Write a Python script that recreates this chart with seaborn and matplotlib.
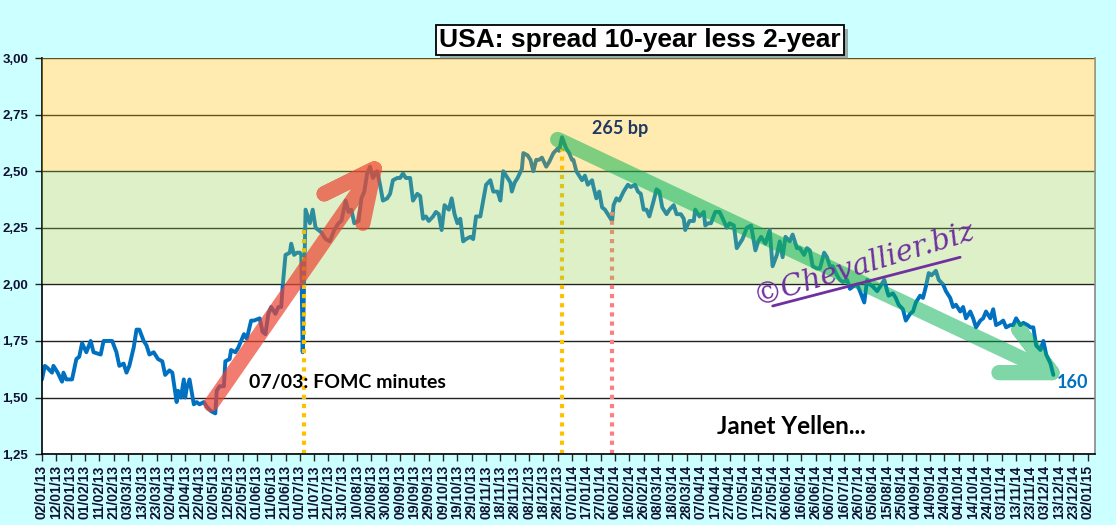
import numpy as np
import pandas as pd
import matplotlib
matplotlib.use('Agg')
import matplotlib.pyplot as plt
import matplotlib.dates as mdates
import matplotlib.ticker as mticker
import matplotlib.patheffects as pe
import seaborn as sns

# ---- data ----
start = pd.Timestamp('2013-01-02')
# days after 02/01/2013
days = [0, 2, 4, 7, 8, 11, 14, 15, 17, 21, 24, 26, 28, 31, 34, 36, 41, 43, 49, 52,
        54, 57, 59, 61, 64, 66, 68, 71, 73, 75, 78, 81, 84, 86, 89, 91, 94, 95, 97, 99,
        100, 101, 103, 106, 108, 110, 113, 115, 118, 121, 122, 124, 127, 128, 131, 132, 135, 137, 139, 141,
        143, 146, 148, 152, 154, 156, 158, 160, 163, 165, 167, 168, 170, 173, 174, 176, 178, 180, 181, 182,
        184, 187, 189, 191, 195, 198, 201, 204, 207, 209, 212, 214, 216, 218, 221, 223, 225, 227, 229, 231,
        234, 236, 238, 241, 243, 245, 248, 250, 252, 254, 257, 259, 262,
        264, 266, 268, 270, 273, 275, 277, 279, 281, 284, 286, 288, 290, 292, 294, 296, 299, 301, 303, 306,
        308, 310, 313, 315, 318, 320, 322, 325, 327, 328, 330, 332, 335, 336, 339, 341, 343, 345, 347, 349,
        352, 354, 357, 360, 361, 363, 366, 368, 370, 371, 373, 375, 377, 379, 381, 384, 385, 387, 389, 391,
        393, 395, 398, 399, 401, 403, 406, 409, 411, 414, 416, 418, 420, 422, 424, 427, 429, 431, 433, 436,
        438, 441, 443, 446, 448, 449, 452, 455, 456, 459, 462, 463, 465, 467, 470, 473, 476, 478, 480, 483,
        485,
        487, 489, 492, 495, 498, 500, 502, 505, 508, 510, 513, 515, 517, 519, 522, 524, 527, 529, 532, 534,
        536, 538, 541, 543, 546, 548, 550, 552, 555, 557, 559, 562, 564, 566, 569, 571, 574, 576, 578, 580,
        583, 585, 588, 590, 591, 594, 596, 598, 601, 603, 606, 608, 610, 613, 615, 617, 619, 621, 624, 626,
        629, 631, 634, 636, 638, 641, 643, 645, 648, 650, 652, 655, 657, 659, 662, 664, 666, 669, 671, 673,
        676, 678, 680, 683, 685, 688, 690, 692, 694, 697, 699, 701, 704, 706]
spread = [1.58, 1.64, 1.63, 1.61, 1.64, 1.61, 1.57, 1.61, 1.58, 1.58, 1.67, 1.68, 1.74, 1.70, 1.75, 1.70, 1.69, 1.75, 1.75, 1.70,
          1.64, 1.65, 1.61, 1.64, 1.72, 1.80, 1.80, 1.75, 1.73, 1.69, 1.70, 1.67, 1.66, 1.60, 1.62, 1.61, 1.48, 1.53, 1.50, 1.58,
          1.50, 1.54, 1.58, 1.47, 1.48, 1.47, 1.48, 1.46, 1.44, 1.43, 1.53, 1.55, 1.55, 1.66, 1.67, 1.71, 1.70, 1.72, 1.75, 1.78,
          1.76, 1.84, 1.84, 1.85, 1.79, 1.78, 1.87, 1.90, 1.87, 1.90, 1.90, 1.99, 2.13, 2.14, 2.18, 2.13, 2.14, 2.14, 2.13, 1.70,
          2.33, 2.27, 2.33, 2.25, 2.23, 2.20, 2.19, 2.24, 2.27, 2.28, 2.37, 2.32, 2.33, 2.27, 2.28, 2.38, 2.41, 2.49, 2.52, 2.47,
          2.50, 2.44, 2.37, 2.38, 2.40, 2.46, 2.47, 2.47, 2.49, 2.47, 2.47, 2.37, 2.40,
          2.39, 2.29, 2.30, 2.28, 2.30, 2.32, 2.31, 2.24, 2.35, 2.33, 2.38, 2.31, 2.27, 2.29, 2.19, 2.20, 2.21, 2.20, 2.30, 2.30,
          2.37, 2.44, 2.46, 2.41, 2.41, 2.37, 2.50, 2.47, 2.45, 2.41, 2.45, 2.47, 2.51, 2.58, 2.57, 2.55, 2.50, 2.55, 2.55, 2.56,
          2.52, 2.54, 2.58, 2.60, 2.59, 2.65, 2.60, 2.58, 2.55, 2.55, 2.50, 2.48, 2.46, 2.48, 2.44, 2.46, 2.43, 2.38, 2.41, 2.34,
          2.33, 2.31, 2.28, 2.35, 2.38, 2.37, 2.41, 2.44, 2.43, 2.44, 2.41, 2.40, 2.33, 2.33, 2.30, 2.37, 2.42, 2.41, 2.34, 2.31,
          2.33, 2.35, 2.31, 2.31, 2.29, 2.24, 2.28, 2.28, 2.33, 2.30, 2.32, 2.26, 2.27, 2.27, 2.32, 2.32, 2.28, 2.25, 2.27, 2.26,
          2.16,
          2.18, 2.20, 2.25, 2.26, 2.15, 2.19, 2.21, 2.18, 2.24, 2.08, 2.13, 2.19, 2.12, 2.21, 2.19, 2.22, 2.16, 2.16, 2.13, 2.16,
          2.15, 2.08, 2.07, 2.07, 2.14, 2.12, 2.08, 2.08, 2.04, 2.02, 2.01, 2.02, 1.98, 1.99, 2.00, 1.97, 1.92, 2.02, 2.00, 1.99,
          1.97, 1.99, 2.02, 1.97, 1.95, 1.96, 1.94, 1.91, 1.89, 1.84, 1.87, 1.88, 1.92, 1.95, 1.94, 1.99, 2.05, 2.04, 2.06, 2.02,
          2.00, 1.97, 1.94, 1.90, 1.91, 1.88, 1.90, 1.85, 1.88, 1.85, 1.81, 1.84, 1.85, 1.88, 1.85, 1.89, 1.82, 1.83, 1.84, 1.81,
          1.82, 1.82, 1.85, 1.82, 1.83, 1.82, 1.81, 1.81, 1.73, 1.71, 1.75, 1.69, 1.65, 1.60]

dates = start + pd.to_timedelta(days, unit='D')
df = pd.DataFrame({'date': dates, 'spread': spread})

tick_dates = pd.date_range('2013-01-02', '2015-01-02', freq='10D')
y_ticks = [1.25, 1.50, 1.75, 2.00, 2.25, 2.50, 2.75, 3.00]

fomc_date, fomc_top = '2013-07-04', 2.24
peak_date, peak_top = '2013-12-31', 2.60
yellen_date, yellen_top = '2014-02-04', 2.32

# arrows (date, value) paths
red_arrow = [('2013-04-30', 1.47), ('2013-08-22', 2.51), ('2013-07-18', 2.40),
             ('2013-08-22', 2.51), ('2013-08-14', 2.27)]
green_arrow = [('2013-12-28', 2.64), ('2014-12-08', 1.61), ('2014-11-15', 1.80),
               ('2014-12-08', 1.61), ('2014-11-01', 1.61)]

# ---- plot ----
sns.set_theme(style='white')
plt.rcParams['font.family'] = ['Liberation Sans', 'DejaVu Sans']

fig = plt.figure(figsize=(11.16, 5.25), dpi=100, facecolor='#CCFFFF')
ax = fig.add_axes([0.0376, 0.135, 0.9435, 0.7545])
ax.set_facecolor('white')

for y in y_ticks:
    ax.axhline(y, color='#222222', lw=1.0, zorder=1)

sns.lineplot(data=df, x='date', y='spread', ax=ax, color='#0070C0', lw=2.8,
             estimator=None, zorder=2)

for d, top, c in [(fomc_date, fomc_top, '#FFC000'), (peak_date, peak_top, '#FFC000'),
                  (yellen_date, yellen_top, '#FF7C80')]:
    ax.plot([pd.Timestamp(d)] * 2, [1.25, top], color=c, lw=3, ls=(0, (1, 1.2)), zorder=2)

# translucent zones over the line
ax.axhspan(2.5, 3.0, color='#FFC000', alpha=0.31, lw=0, zorder=3)
ax.axhspan(2.0, 2.5, color='#92D050', alpha=0.31, lw=0, zorder=3)

def fat_arrow(path, color, alpha, lw):
    xs = [mdates.date2num(pd.Timestamp(d)) for d, v in path]
    ys = [v for d, v in path]
    ax.plot(xs, ys, color=color, alpha=alpha, lw=lw, solid_capstyle='round',
            solid_joinstyle='round', zorder=4)

fat_arrow(red_arrow, '#EE4433', 0.7, 11)
fat_arrow(green_arrow, '#00B050', 0.5, 11)

ax.set_xlim(pd.Timestamp('2013-01-02'), pd.Timestamp('2015-01-07'))
ax.set_ylim(1.25, 3.0)
ax.set_xlabel('')
ax.set_ylabel('')
ax.xaxis.set_major_locator(mticker.FixedLocator(mdates.date2num(tick_dates)))
ax.xaxis.set_major_formatter(mdates.DateFormatter('%d/%m/%y'))
ax.yaxis.set_major_locator(mticker.FixedLocator(y_ticks))
ax.yaxis.set_major_formatter(mticker.FuncFormatter(lambda v, p: f'{v:.2f}'.replace('.', ',')))
ax.tick_params(axis='x', rotation=90, labelsize=10, length=5, width=1, direction='out',
               bottom=True, pad=3)
ax.tick_params(axis='y', labelsize=9.5, length=5, width=1, direction='out', left=True, pad=5)
for lab in ax.get_xticklabels() + ax.get_yticklabels():
    lab.set_fontweight('bold')
    lab.set_color('#111133')

for s in ['left', 'bottom']:
    ax.spines[s].set_color('black')
    ax.spines[s].set_linewidth(1.2)
ax.spines['top'].set_visible(False)
ax.spines['right'].set_color('#888888')
ax.spines['right'].set_linewidth(1.2)

# texts
t = fig.text(0.5735, 0.924, 'USA: spread 10-year less 2-year', ha='center', va='center',
             fontsize=19, fontweight='bold', color='black',
             bbox=dict(boxstyle='square,pad=0.12', fc='white', ec='black', lw=1.3))
t.get_bbox_patch().set_path_effects([pe.withSimplePatchShadow(offset=(3, -3),
                                      shadow_rgbFace='#777777', alpha=0.6)])

lab_font = ['Lato', 'DejaVu Sans']
ax.text(0.549, 0.823, '265 bp', transform=ax.transAxes, ha='center', va='center',
        fontsize=13, fontweight='bold', color='#1F3864', family=lab_font, zorder=6)
ax.text(0.290, 0.182, '07/03: FOMC minutes', transform=ax.transAxes, ha='center', va='center',
        fontsize=14, fontweight='bold', color='black', family=lab_font, zorder=6)
ax.text(0.712, 0.0707, 'Janet Yellen...', transform=ax.transAxes, ha='center', va='center',
        fontsize=17.5, fontweight='bold', color='black', family=lab_font, zorder=6)
ax.text(0.979, 0.182, '160', transform=ax.transAxes, ha='center', va='center',
        fontsize=13, fontweight='bold', color='#0070C0', family=lab_font, zorder=6)

ax.text(0.781, 0.482, '©Chevallier.biz', transform=ax.transAxes, ha='center', va='center',
        fontsize=21, style='italic', color='#7030A0', rotation=17,
        family=['DejaVu Serif'], zorder=6)
ax.plot([0.694, 0.872], [0.374, 0.497], transform=ax.transAxes, color='#7030A0', lw=2, zorder=6)

fig.savefig('out.png', dpi=100, facecolor=fig.get_facecolor())
